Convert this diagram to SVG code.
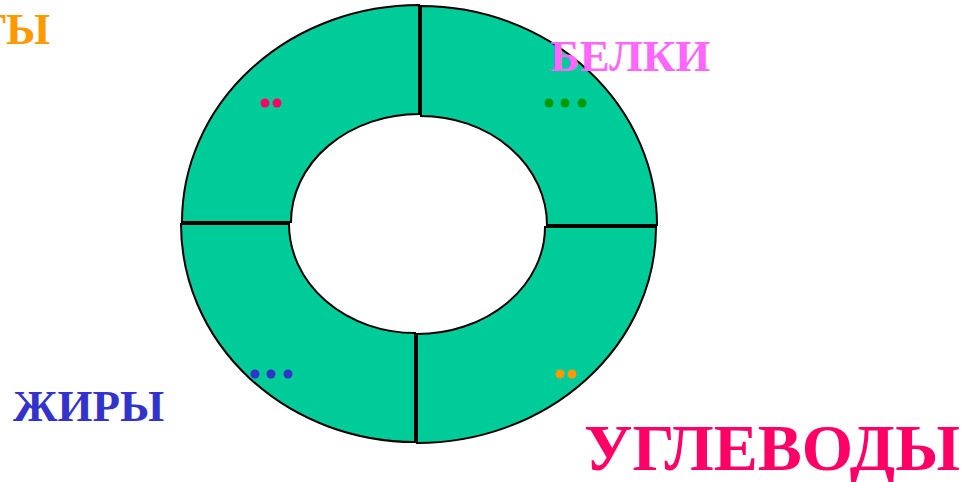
<svg xmlns="http://www.w3.org/2000/svg" width="967" height="482" viewBox="0 0 967 482">
<style>
.seg{fill:#00CC99;stroke:#000;stroke-width:2;stroke-linejoin:miter}
.lbl{font-family:"Liberation Serif","Times New Roman",serif;font-weight:bold}
</style>
<rect width="967" height="482" fill="#fff"/>
<g id="segments">
<g id="seg-tl"><path class="seg" d="M182,222 A237 217 0 0 1 419,5 L419,114 A128 108 0 0 0 291,222 Z"/>
<circle cx="265" cy="103" r="4.5" fill="#FF0066"/><circle cx="277" cy="103" r="4.5" fill="#FF0066"/></g>
<g id="seg-tr"><path class="seg" d="M421,6 A236 219 0 0 1 657,225 L547,225 A126 109 0 0 0 421,116 Z"/>
<circle cx="549" cy="103" r="4.5" fill="#009900"/><circle cx="565" cy="103" r="4.5" fill="#009900"/><circle cx="582" cy="103" r="4.5" fill="#009900"/></g>
<g id="seg-bl"><path class="seg" d="M181,224 A234 218 0 0 0 415,442 L415,333 A126 109 0 0 1 289,224 Z"/>
<circle cx="255" cy="374" r="4.5" fill="#3333CC"/><circle cx="271" cy="374" r="4.5" fill="#3333CC"/><circle cx="288" cy="374" r="4.5" fill="#3333CC"/></g>
<g id="seg-br"><path class="seg" d="M417,443 A239 216 0 0 0 656,227 L545,227 A128 107 0 0 1 417,334 Z"/>
<circle cx="560" cy="374" r="4.5" fill="#FF9900"/><circle cx="572" cy="374" r="4.5" fill="#FF9900"/></g>
</g>
<g id="labels">
<text class="lbl" x="-24" y="44" font-size="45" fill="#FF9900">ТЫ</text>
<text class="lbl" x="550" y="71" font-size="45" fill="#FF66FF">БЕЛКИ</text>
<text class="lbl" x="13" y="421" font-size="45" fill="#3333CC">ЖИРЫ</text>
<text class="lbl" x="584" y="470" font-size="66" fill="#FF0066">УГЛЕВОДЫ</text>
</g>
</svg>
